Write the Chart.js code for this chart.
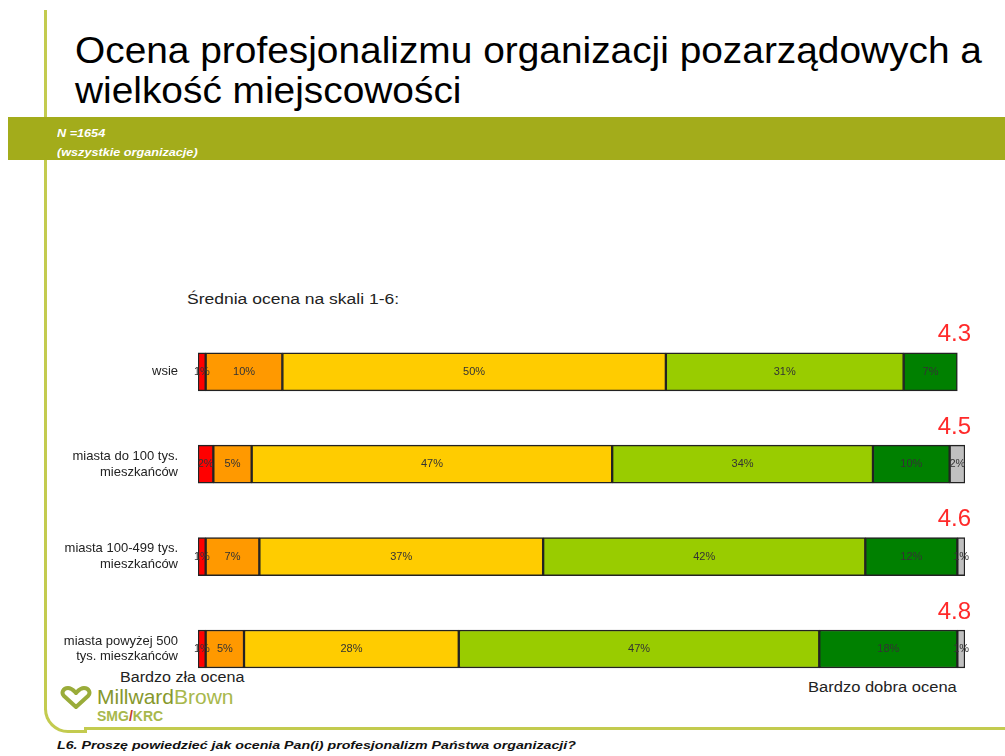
<!DOCTYPE html>
<html>
<head>
<meta charset="utf-8">
<script src="https://cdn.jsdelivr.net/npm/chart.js@4"></script>
<style>
  body { margin: 0; width: 1005px; height: 756px; background: #fff; font-family: "Liberation Sans", Arial, sans-serif; position: relative; overflow: hidden; }
  .vline { position: absolute; left: 44px; top: 10px; width: 3px; height: 700px; background: #c3cb4f; }
  .corner { position: absolute; left: 44px; top: 690px; width: 40px; height: 40px; border-left: 3px solid #c3cb4f; border-bottom: 3px solid #c3cb4f; border-bottom-left-radius: 24px; }
  .hline { position: absolute; left: 84px; top: 727px; width: 921px; height: 3px; background: #c3cb4f; }
  .title { position: absolute; left: 75px; top: 31px; font-size: 37px; line-height: 40px; color: #000; transform: scaleX(1.05); transform-origin: left top; white-space: nowrap; }
  .band { position: absolute; left: 8px; top: 117px; width: 997px; height: 43px; background: #a3ac1b; }
  .band div { position: absolute; left: 49px; color: #fff; font-size: 11px; font-style: italic; font-weight: bold; transform: scaleX(1.15); transform-origin: left top; white-space: nowrap; }
  .sx { position: absolute; transform-origin: left top; white-space: nowrap; color: #222; }
  .sub { left: 187px; top: 291px; font-size: 14px; transform: scaleX(1.25); }
  .low { left: 120px; top: 669px; font-size: 14px; transform: scaleX(1.15); }
  .high { left: 808px; top: 679px; font-size: 14px; transform: scaleX(1.18); }
  .logo { position: absolute; left: 97px; top: 685px; font-size: 21px; color: #86982c; }
  .logo span { color: #a8b84c; }
  .smg { position: absolute; left: 97px; top: 708px; font-size: 14px; font-weight: bold; color: #a8b84c; }
  .smg b { color: #c0392b; }
  .icon { position: absolute; left: 60px; top: 686px; }
  .foot { left: 57px; top: 739px; font-size: 11px; font-style: italic; font-weight: bold; color: #111; transform: scaleX(1.29); }
  #wrap { position: absolute; left: 0; top: 298px; width: 1005px; height: 417px; }
</style>
</head>
<body>
<div class="vline"></div>
<div class="corner"></div>
<div class="hline"></div>
<div class="title">Ocena profesjonalizmu organizacji pozarządowych a<br>wielkość miejscowości</div>
<div class="band"><div style="top:10px">N =1654</div><div style="top:29px">(wszystkie organizacje)</div></div>
<div class="sx sub">Średnia ocena na skali 1-6:</div>
<div class="sx low">Bardzo zła ocena</div>
<div class="sx high">Bardzo dobra ocena</div>
<svg class="icon" width="32" height="24" viewBox="0 0 32 24">
  <path d="M16 21 L4 10 C1 7 3 2 8 2 C12 2 14 5 16 7 C18 5 20 2 24 2 C29 2 31 7 28 10 Z" fill="none" stroke="#9aac3a" stroke-width="4" stroke-linejoin="round"/>
</svg>
<div class="logo">Millward<span>Brown</span></div>
<div class="smg">SMG<b>/</b>KRC</div>
<div class="sx foot">L6. Proszę powiedzieć jak ocenia Pan(i) profesjonalizm Państwa organizacji?</div>
<div id="wrap"><canvas id="ocenaChart"></canvas></div>
<script>
const categories = [
  'wsie',
  ['miasta do 100 tys.', 'mieszkańców'],
  ['miasta 100-499 tys.', 'mieszkańców'],
  ['miasta powyżej 500', 'tys. mieszkańców']
];
const seriesNames = ['Bardzo zła', 'Zła', 'Średnia', 'Dobra', 'Bardzo dobra', 'Trudno powiedzieć'];
const seriesColors = ['#ff0000', '#ff9900', '#ffcc00', '#99cc00', '#008000', '#c0c0c0'];
const valsBardzoZla = [1, 2, 1, 1];
const valsZla = [10, 5, 7, 5];
const valsSrednia = [50, 47, 37, 28];
const valsDobra = [31, 34, 42, 47];
const valsBardzoDobra = [7, 10, 12, 18];
const valsTrudno = [0, 2, 1, 1];
const means = ['4.3', '4.5', '4.6', '4.8'];

const allVals = [valsBardzoZla, valsZla, valsSrednia, valsDobra, valsBardzoDobra, valsTrudno];

// labels inside segments + mean score above each bar
const labelsPlugin = {
  id: 'labelsPlugin',
  afterDatasetsDraw(chart) {
    const ctx = chart.ctx;
    ctx.save();
    ctx.font = '11px "Liberation Sans", Arial, sans-serif';
    ctx.fillStyle = '#333';
    ctx.textAlign = 'center';
    ctx.textBaseline = 'middle';
    chart.data.datasets.forEach((ds, i) => {
      chart.getDatasetMeta(i).data.forEach((bar, j) => {
        const v = ds.data[j];
        if (!v) return;
        ctx.fillText(v + '%', (bar.x + bar.base) / 2, bar.y);
      });
    });
    ctx.font = '24px "Liberation Sans", Arial, sans-serif';
    ctx.fillStyle = '#ff2a2a';
    ctx.textAlign = 'right';
    const xr = chart.chartArea.right + 6;
    chart.getDatasetMeta(0).data.forEach((bar, j) => {
      ctx.fillText(means[j], xr, bar.y - 37);
    });
    ctx.restore();
  }
};

new Chart(document.getElementById('ocenaChart'), {
  type: 'bar',
  data: {
    labels: categories,
    datasets: allVals.map((d, i) => ({
      label: seriesNames[i],
      data: d,
      backgroundColor: seriesColors[i],
      borderColor: '#222',
      borderWidth: 1.5,
      borderSkipped: false,
      barThickness: 38
    }))
  },
  options: {
    indexAxis: 'y',
    responsive: true,
    maintainAspectRatio: false,
    animation: false,
    layout: { padding: { top: 26, bottom: 6, left: 0, right: 40 } },
    scales: {
      x: { stacked: true, min: 0, max: 100, display: false },
      y: {
        stacked: true,
        grid: { display: false },
        border: { display: false },
        ticks: { color: '#222', font: { size: 13, family: '"Liberation Sans", Arial, sans-serif' }, padding: 12 },
        afterFit(scale) { scale.width = 198; }
      }
    },
    plugins: {
      legend: { display: false },
      tooltip: { enabled: false }
    }
  },
  plugins: [labelsPlugin]
});
</script>
</body>
</html>
